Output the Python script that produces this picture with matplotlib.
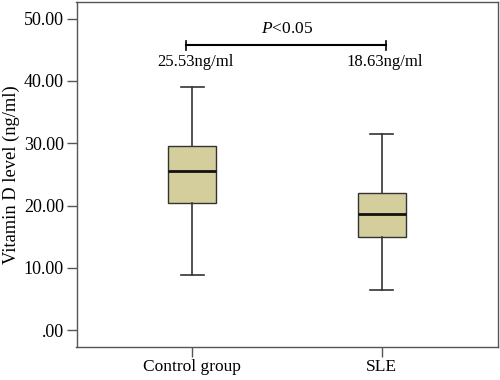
import numpy as np
import matplotlib
matplotlib.use("Agg")
import matplotlib.pyplot as plt

plt.rcParams['font.family'] = ['Liberation Serif', 'DejaVu Serif']
plt.rcParams['mathtext.fontset'] = 'custom'
plt.rcParams['mathtext.it'] = 'Liberation Serif:italic'
plt.rcParams['mathtext.rm'] = 'Liberation Serif'

# data (box-plot stats per group)
groups = ['Control group', 'SLE']
q1 = [20.4, 15.0]
med = [25.6, 18.6]
q3 = [29.5, 22.0]
whislo = [8.8, 6.4]
whishi = [39.1, 31.5]
mean_labels = ['25.53ng/ml', '18.63ng/ml']
yticks = [0, 10, 20, 30, 40, 50]
ytick_labels = ['.00', '10.00', '20.00', '30.00', '40.00', '50.00']

stats = []
for i, g in enumerate(groups):
    stats.append(dict(label=g, q1=q1[i], med=med[i], q3=q3[i],
                      whislo=whislo[i], whishi=whishi[i], fliers=[]))

fig = plt.figure(figsize=(5, 3.8), dpi=100)
ax = fig.add_axes([0.153, 0.087, 0.842, 0.908])

pos = [1, 2]
edge = '#333333'
ax.bxp(stats, positions=pos, widths=0.25, patch_artist=True, showfliers=False,
       boxprops=dict(facecolor='#d3ce9c', edgecolor=edge, linewidth=1.0),
       medianprops=dict(color='#111111', linewidth=2.0),
       whiskerprops=dict(color=edge, linewidth=1.2),
       capprops=dict(color=edge, linewidth=1.2),
       capwidths=0.12)

ax.set_xlim(0.39, 2.61)
ax.set_ylim(-2.7, 52.7)
ax.set_yticks(yticks)
ax.set_yticklabels(ytick_labels, fontsize=13)
ax.set_xticks(pos)
ax.set_xticklabels(groups, fontsize=12.5)
ax.tick_params(direction='out', length=7, width=1, color='#555555', pad=2)
for s in ax.spines.values():
    s.set_color('#555555')
    s.set_linewidth(1.0)
ax.set_ylabel('Vitamin D level (ng/ml)', fontsize=13.3, labelpad=3)

# significance bar
y_bar = 45.7
ax.plot([0.97, 2.02], [y_bar, y_bar], color='black', lw=1.5)
ax.plot([0.97, 0.97], [y_bar - 0.7, y_bar + 0.7], color='black', lw=1.2)
ax.plot([2.02, 2.02], [y_bar - 0.7, y_bar + 0.7], color='black', lw=1.2)
ax.text(1.5, y_bar + 1.3, '$P$<0.05', ha='center', va='bottom', fontsize=12.5)

for p, t in zip(pos, mean_labels):
    ax.text(p + 0.015, 41.8, t, ha='center', va='bottom', fontsize=12)

fig.savefig('out.png', dpi=100)
